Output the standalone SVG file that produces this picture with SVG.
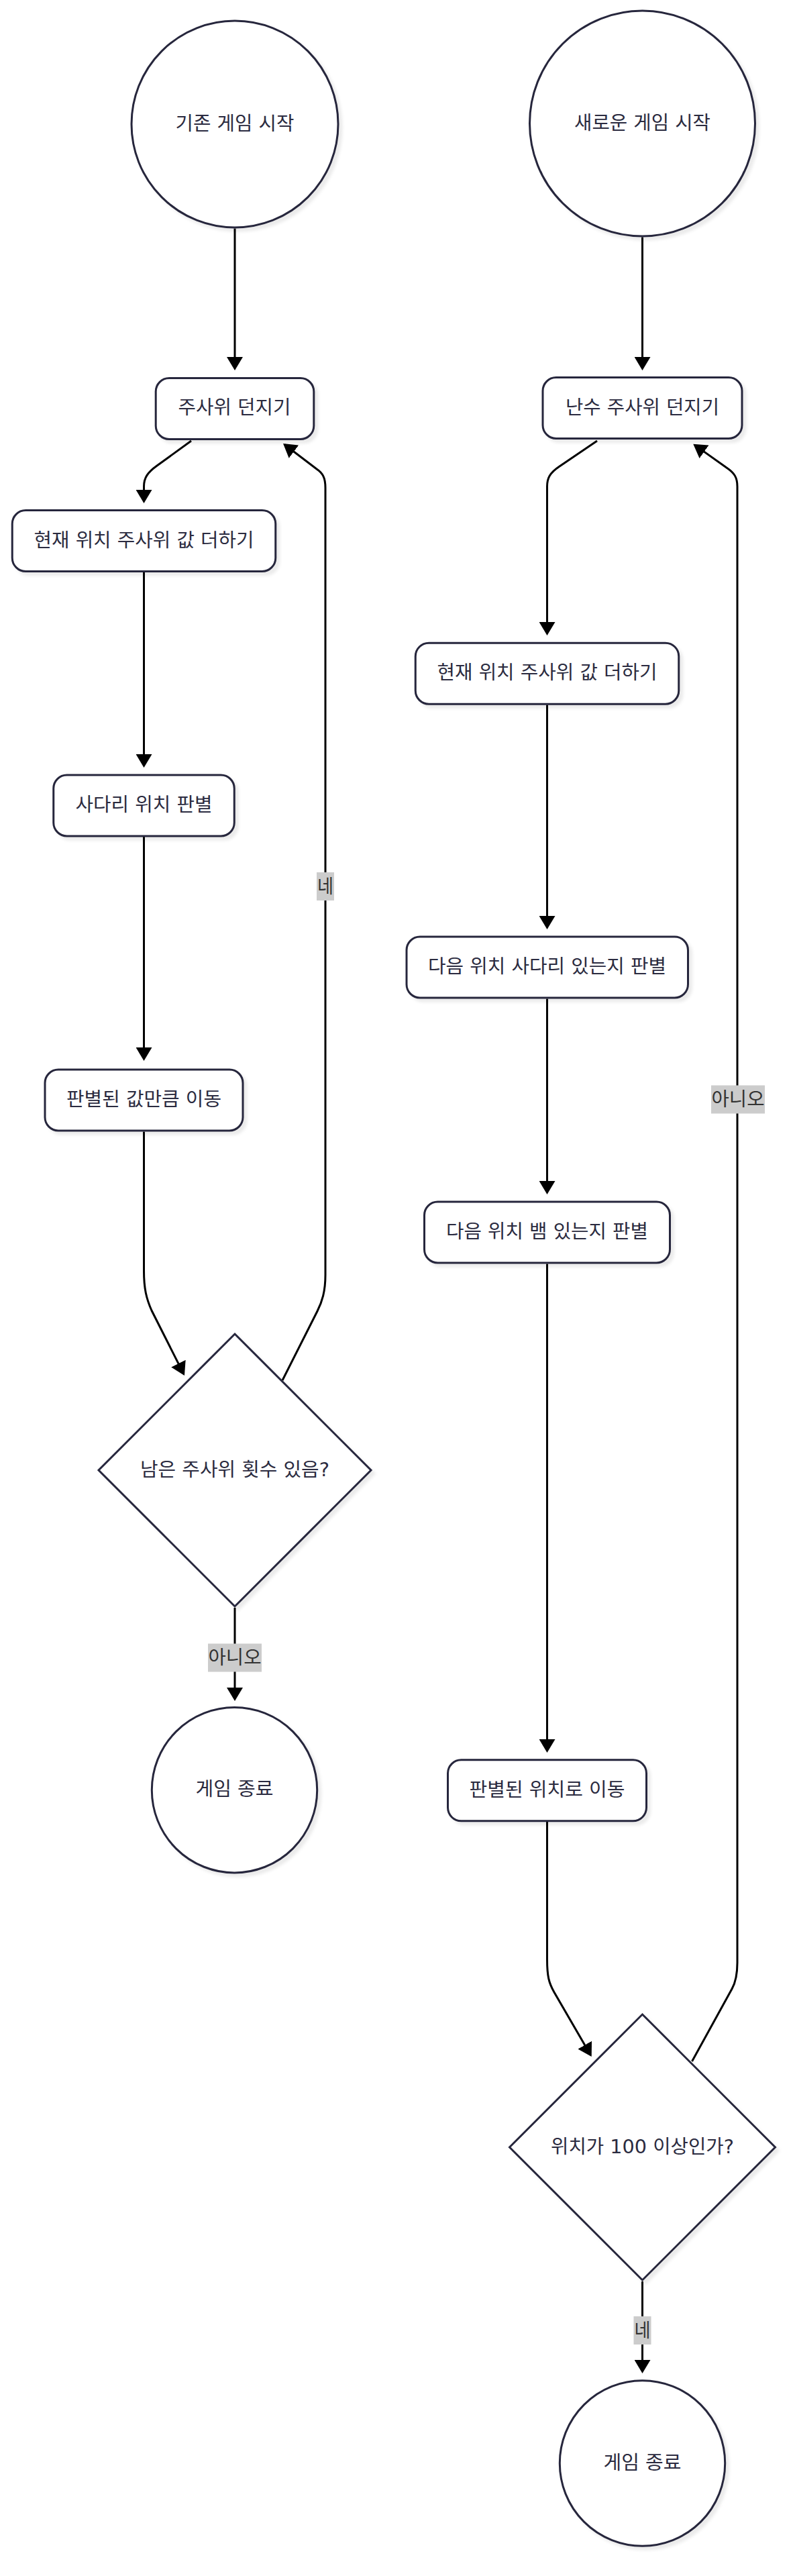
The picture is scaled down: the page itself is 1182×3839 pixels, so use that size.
<svg xmlns="http://www.w3.org/2000/svg" width="1182" height="3839" viewBox="0 0 1182 3839">
<defs>
<style>
.shape{fill:#ffffff;stroke:#28283c;stroke-width:3;filter:url(#sh);}
.t{font-family:"DejaVu Sans","Noto Sans CJK KR",sans-serif;font-size:28px;fill:#2b2b40;text-anchor:middle;dominant-baseline:central;}
.edge{fill:none;stroke:#000000;stroke-width:3;marker-end:url(#arr);}
.lblbg{fill:#cccccc;}
.lbl{font-family:"DejaVu Sans","Noto Sans CJK KR",sans-serif;font-size:28px;fill:#333333;text-anchor:middle;dominant-baseline:central;}
</style>
<filter id="sh" x="-10%" y="-10%" width="130%" height="130%">
<feDropShadow dx="5" dy="5" stdDeviation="2" flood-color="#000000" flood-opacity="0.08"/>
</filter>
<marker id="arr" viewBox="0 0 20 24" refX="17" refY="12" markerWidth="20" markerHeight="24" markerUnits="userSpaceOnUse" orient="auto">
<path d="M0,0 L20,12 L0,24 z" fill="#000000"/>
</marker>
</defs>
<rect x="0" y="0" width="1182" height="3839" fill="#ffffff"/>

<g id="edges">
<path class="edge" d="M350,340.5 L350,549"/>
<path class="edge" d="M285,657 L234,694 C220,704 214.5,712 214.5,725 L214.5,747"/>
<path class="edge" d="M214.5,852.5 L214.5,1141"/>
<path class="edge" d="M214.5,1247 L214.5,1578"/>
<path class="edge" d="M214.5,1686.5 L214.5,1894 C214.5,1920 218,1935 226,1953 L273.6,2047.3"/>
<path class="edge" d="M350,2396 L350,2532"/>
<path class="edge" d="M421,2057 L473,1954 C480,1940 485,1925 485,1900 L485,727 C485,712 481,705 472,699 L424.4,662.8"/>
<path class="edge" d="M957.5,353.5 L957.5,549"/>
<path class="edge" d="M890,657 L834,695 C819,705 815.5,713 815.5,725 L815.5,944"/>
<path class="edge" d="M815.5,1050.5 L815.5,1382"/>
<path class="edge" d="M815.5,1488.5 L815.5,1777"/>
<path class="edge" d="M815.5,1883.5 L815.5,2609"/>
<path class="edge" d="M815.5,2715 L815.5,2920 C815.5,2945 818,2955 826,2969 L880.2,3062.4"/>
<path class="edge" d="M957.5,3400 L957.5,3534"/>
<path class="edge" d="M1031.5,3072 L1091,2964 C1096,2955 1099,2945 1099,2925 L1099,725 C1099,712 1095,705 1083,697 L1035.7,663.4"/>
<g id="edge-labels">
<rect class="lblbg" x="472" y="1300" width="26" height="42"/>
<text class="lbl" x="485" y="1321" textLength="24" lengthAdjust="spacingAndGlyphs">네</text>
<rect class="lblbg" x="310" y="2449.5" width="80" height="42"/>
<text class="lbl" x="350" y="2470.5" textLength="79" lengthAdjust="spacingAndGlyphs">아니오</text>
<rect class="lblbg" x="1060" y="1617.5" width="80" height="42"/>
<text class="lbl" x="1100" y="1638.5" textLength="79" lengthAdjust="spacingAndGlyphs">아니오</text>
<rect class="lblbg" x="944.5" y="3452" width="26" height="42"/>
<text class="lbl" x="957.5" y="3473" textLength="24" lengthAdjust="spacingAndGlyphs">네</text>
</g>
</g>

<g id="n-start-old">
<circle class="shape" cx="350" cy="185" r="154"/>
<text class="t" x="350" y="184" textLength="177" lengthAdjust="spacingAndGlyphs">기존 게임 시작</text>
</g>
<g id="n-roll-old">
<rect class="shape" x="232.2" y="563.5" width="235.6" height="91" rx="20" ry="20"/>
<text class="t" x="349.5" y="607.5" textLength="168" lengthAdjust="spacingAndGlyphs">주사위 던지기</text>
</g>
<g id="n-add-old">
<rect class="shape" x="18.25" y="760.5" width="392.5" height="91" rx="20" ry="20"/>
<text class="t" x="214.5" y="805" textLength="328" lengthAdjust="spacingAndGlyphs">현재 위치 주사위 값 더하기</text>
</g>
<g id="n-ladder-old">
<rect class="shape" x="79.75" y="1155" width="269.5" height="91" rx="20" ry="20"/>
<text class="t" x="214.5" y="1199.5" textLength="204" lengthAdjust="spacingAndGlyphs">사다리 위치 판별</text>
</g>
<g id="n-move-old">
<rect class="shape" x="67" y="1594" width="295" height="91" rx="20" ry="20"/>
<text class="t" x="214.5" y="1638.5" textLength="231" lengthAdjust="spacingAndGlyphs">판별된 값만큼 이동</text>
</g>
<g id="n-dec-old">
<polygon class="shape" points="350,1988 553,2191 350,2394 147,2191"/>
<text class="t" x="350" y="2190" textLength="282" lengthAdjust="spacingAndGlyphs">남은 주사위 횟수 있음?</text>
</g>
<g id="n-end-old">
<circle class="shape" cx="349.5" cy="2667.7" r="123.2"/>
<text class="t" x="349.5" y="2666.7" textLength="116" lengthAdjust="spacingAndGlyphs">게임 종료</text>
</g>

<g id="n-start-new">
<circle class="shape" cx="957.5" cy="184" r="168"/>
<text class="t" x="957.5" y="183" textLength="203" lengthAdjust="spacingAndGlyphs">새로운 게임 시작</text>
</g>
<g id="n-roll-new">
<rect class="shape" x="809" y="562.5" width="297" height="91" rx="20" ry="20"/>
<text class="t" x="957.5" y="607" textLength="229" lengthAdjust="spacingAndGlyphs">난수 주사위 던지기</text>
</g>
<g id="n-add-new">
<rect class="shape" x="619.25" y="958.2" width="392.5" height="91" rx="20" ry="20"/>
<text class="t" x="815.5" y="1002.7" textLength="328" lengthAdjust="spacingAndGlyphs">현재 위치 주사위 값 더하기</text>
</g>
<g id="n-ladder-new">
<rect class="shape" x="606" y="1396" width="419.5" height="91" rx="20" ry="20"/>
<text class="t" x="815.5" y="1440.5" textLength="355" lengthAdjust="spacingAndGlyphs">다음 위치 사다리 있는지 판별</text>
</g>
<g id="n-snake-new">
<rect class="shape" x="632.5" y="1791" width="366" height="91" rx="20" ry="20"/>
<text class="t" x="815.5" y="1835.5" textLength="301" lengthAdjust="spacingAndGlyphs">다음 위치 뱀 있는지 판별</text>
</g>
<g id="n-move-new">
<rect class="shape" x="667.5" y="2622.8" width="296" height="91" rx="20" ry="20"/>
<text class="t" x="815.5" y="2667.3" textLength="232" lengthAdjust="spacingAndGlyphs">판별된 위치로 이동</text>
</g>
<g id="n-dec-new">
<polygon class="shape" points="957.5,3002 1155.5,3200 957.5,3398 759.5,3200"/>
<text class="t" x="957.5" y="3199" textLength="273" lengthAdjust="spacingAndGlyphs">위치가 100 이상인가?</text>
</g>
<g id="n-end-new">
<circle class="shape" cx="957.5" cy="3671" r="123.2"/>
<text class="t" x="957.5" y="3670" textLength="116" lengthAdjust="spacingAndGlyphs">게임 종료</text>
</g>
</svg>
